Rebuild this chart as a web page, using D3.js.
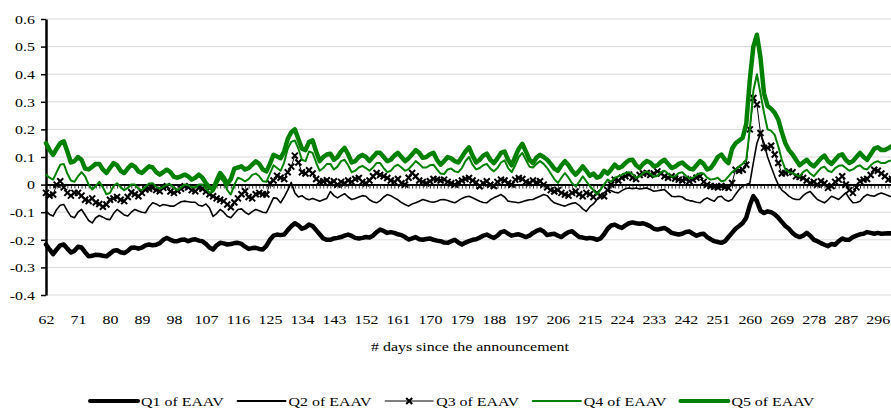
<!DOCTYPE html>
<html>
<head>
<meta charset="utf-8">
<script src="https://cdn.jsdelivr.net/npm/d3@7"></script>
<style>
  html, body { margin: 0; padding: 0; background: #fff; }
  svg { display: block; font-family: "Liberation Serif", "Times New Roman", Times, serif; }
</style>
</head>
<body>
<div id="chart"></div>
<script>
// Days since the announcement (one category per day)
const days = d3.range(62, 301);
const dayLabels = [62, 71, 80, 89, 98, 107, 116, 125, 134, 143, 152, 161, 170, 179, 188, 197, 206, 215, 224, 233, 242, 251, 260, 269, 278, 287, 296];
const yTicks = [-0.4, -0.3, -0.2, -0.1, 0, 0.1, 0.2, 0.3, 0.4, 0.5, 0.6];
const seriesNames = ['Q1 of EAAV', 'Q2 of EAAV', 'Q3 of EAAV', 'Q4 of EAAV', 'Q5 of EAAV'];

const q1 = [
  -0.217, -0.235, -0.252, -0.235, -0.22, -0.217, -0.232, -0.246, -0.24, -0.225,
  -0.228, -0.245, -0.26, -0.258, -0.254, -0.255, -0.258, -0.26, -0.25, -0.24,
  -0.238, -0.245, -0.248, -0.24, -0.229, -0.228, -0.232, -0.228, -0.22, -0.217,
  -0.22, -0.218, -0.212, -0.2, -0.193, -0.2, -0.205, -0.205, -0.2, -0.199,
  -0.205, -0.2, -0.198, -0.203, -0.205, -0.215, -0.228, -0.235, -0.22, -0.211,
  -0.213, -0.217, -0.215, -0.212, -0.211, -0.215, -0.225, -0.233, -0.23, -0.229,
  -0.233, -0.235, -0.222, -0.2, -0.185, -0.181, -0.183, -0.181, -0.165, -0.151,
  -0.14, -0.148, -0.16, -0.155, -0.145, -0.15, -0.165, -0.18, -0.195, -0.2,
  -0.2, -0.195, -0.193, -0.19, -0.185, -0.181, -0.186, -0.193, -0.195, -0.193,
  -0.19, -0.192, -0.185, -0.172, -0.163, -0.168, -0.175, -0.172, -0.175, -0.18,
  -0.183, -0.19, -0.199, -0.195, -0.19, -0.198, -0.2, -0.197, -0.195, -0.2,
  -0.203, -0.205, -0.21, -0.211, -0.205, -0.2, -0.21, -0.217, -0.21, -0.205,
  -0.2, -0.198, -0.192, -0.185, -0.181, -0.188, -0.193, -0.185, -0.172, -0.169,
  -0.178, -0.185, -0.182, -0.18, -0.185, -0.19, -0.185, -0.175, -0.168, -0.163,
  -0.17, -0.183, -0.18, -0.178, -0.185, -0.19, -0.18, -0.172, -0.169, -0.18,
  -0.19, -0.192, -0.195, -0.193, -0.195, -0.2, -0.195, -0.18, -0.16, -0.148,
  -0.145, -0.152, -0.157, -0.148, -0.14, -0.137, -0.14, -0.142, -0.14, -0.145,
  -0.151, -0.16, -0.163, -0.16, -0.157, -0.165, -0.175, -0.178, -0.181, -0.178,
  -0.172, -0.17, -0.178, -0.185, -0.18, -0.178, -0.19, -0.198, -0.205, -0.208,
  -0.211, -0.205, -0.19, -0.175, -0.16, -0.15, -0.139, -0.12, -0.075, -0.042,
  -0.06, -0.095, -0.103, -0.097, -0.1, -0.108, -0.12, -0.135, -0.15, -0.16,
  -0.175, -0.185, -0.19, -0.185, -0.175, -0.185, -0.2, -0.205, -0.212, -0.218,
  -0.223, -0.215, -0.218, -0.205, -0.195, -0.2, -0.2, -0.19, -0.185, -0.18,
  -0.178, -0.172, -0.175, -0.178, -0.175, -0.178, -0.177, -0.176, -0.177
];

const q2 = [
  -0.096, -0.108, -0.114, -0.09, -0.075, -0.072, -0.095, -0.115, -0.12, -0.1,
  -0.09, -0.11, -0.13, -0.139, -0.12, -0.112, -0.118, -0.125, -0.127, -0.105,
  -0.09, -0.1, -0.11, -0.114, -0.1, -0.09, -0.096, -0.1, -0.102, -0.08,
  -0.066, -0.07, -0.078, -0.072, -0.075, -0.078, -0.078, -0.07, -0.062, -0.06,
  -0.062, -0.064, -0.064, -0.075, -0.078, -0.07, -0.085, -0.115, -0.105, -0.09,
  -0.1, -0.115, -0.12, -0.105, -0.09, -0.088, -0.1, -0.108, -0.098, -0.09,
  -0.095, -0.1, -0.102, -0.075, -0.048, -0.05, -0.066, -0.045, -0.02, 0.008,
  -0.03, -0.045, -0.04, -0.05, -0.055, -0.05, -0.055, -0.06, -0.055, -0.05,
  -0.025, -0.04, -0.048, -0.04, -0.033, -0.045, -0.054, -0.05, -0.045, -0.04,
  -0.042, -0.055, -0.062, -0.066, -0.058, -0.045, -0.036, -0.04, -0.048, -0.055,
  -0.065, -0.072, -0.078, -0.07, -0.066, -0.06, -0.054, -0.058, -0.062, -0.064,
  -0.06, -0.055, -0.054, -0.058, -0.062, -0.066, -0.058, -0.05, -0.045, -0.042,
  -0.048, -0.054, -0.06, -0.065, -0.066, -0.055, -0.048, -0.042, -0.036, -0.045,
  -0.06, -0.062, -0.064, -0.066, -0.062, -0.058, -0.055, -0.054, -0.048, -0.042,
  -0.036, -0.04, -0.055, -0.066, -0.07, -0.075, -0.078, -0.072, -0.068, -0.066,
  -0.075, -0.088, -0.097, -0.08, -0.07, -0.054, -0.045, -0.03, -0.018, -0.022,
  -0.028, -0.03, -0.022, -0.015, -0.012, -0.015, -0.012, -0.016, -0.014, -0.012,
  -0.018, -0.024, -0.022, -0.02, -0.018, -0.03, -0.042, -0.044, -0.042, -0.045,
  -0.054, -0.058, -0.06, -0.064, -0.066, -0.055, -0.048, -0.055, -0.06, -0.045,
  -0.042, -0.055, -0.06, -0.054, -0.035, -0.018, -0.005, 0.0, 0.005, 0.08,
  0.15, 0.185, 0.15, 0.1, 0.065, 0.03, 0.0, -0.02, -0.03, -0.042,
  -0.05, -0.054, -0.054, -0.04, -0.03, -0.025, -0.04, -0.054, -0.06, -0.066,
  -0.055, -0.042, -0.048, -0.054, -0.042, -0.03, -0.05, -0.066, -0.065, -0.06,
  -0.045, -0.036, -0.04, -0.042, -0.035, -0.03, -0.035, -0.04, -0.045
];

const q3 = [
  -0.03, -0.04, -0.036, 0.0, 0.012, -0.01, -0.03, -0.04, -0.03, -0.03,
  -0.04, -0.055, -0.06, -0.05, -0.065, -0.07, -0.08, -0.072, -0.055, -0.05,
  -0.045, -0.055, -0.06, -0.045, -0.028, -0.035, -0.042, -0.03, -0.018, -0.015,
  -0.012, -0.02, -0.024, -0.012, -0.006, -0.025, -0.03, -0.022, -0.015, -0.006,
  -0.01, -0.02, -0.024, -0.012, -0.015, -0.025, -0.035, -0.042, -0.05, -0.055,
  -0.06, -0.072, -0.082, -0.065, -0.05, -0.035, -0.024, -0.045, -0.05, -0.035,
  -0.03, -0.035, -0.036, 0.005, 0.015, 0.032, 0.025, 0.02, 0.045, 0.065,
  0.105, 0.08, 0.045, 0.04, 0.052, 0.04, 0.02, 0.01, 0.012, 0.016,
  0.006, 0.012, 0.0, 0.01, 0.005, 0.015, 0.01, 0.02, 0.024, 0.01,
  0.005, 0.015, 0.03, 0.042, 0.035, 0.03, 0.024, 0.015, 0.01, 0.02,
  0.005, 0.0, 0.025, 0.042, 0.03, 0.015, 0.01, 0.005, 0.012, 0.02,
  0.018, 0.015, 0.018, 0.01, 0.005, 0.0, 0.008, 0.015, 0.02, 0.024,
  0.015, 0.008, -0.006, 0.005, 0.012, 0.0, -0.005, 0.01, 0.018, 0.015,
  0.006, 0.0, 0.018, 0.024, 0.02, 0.01, 0.006, 0.015, 0.008, 0.012,
  0.0, -0.01, -0.02, -0.025, -0.02, -0.03, -0.036, -0.04, -0.03, -0.025,
  -0.035, -0.042, -0.03, -0.035, -0.045, -0.03, -0.04, -0.042, -0.02, 0.0,
  0.018, 0.015, 0.025, 0.03, 0.036, 0.025, 0.02, 0.035, 0.04, 0.042,
  0.035, 0.04, 0.048, 0.04, 0.03, 0.025, 0.03, 0.022, 0.018, 0.015,
  0.02, 0.012, 0.018, 0.025, 0.03, 0.01, 0.0, -0.005, -0.008, -0.01,
  -0.005, -0.01, -0.012, 0.006, 0.054, 0.05, 0.054, 0.072, 0.2, 0.314,
  0.29, 0.187, 0.133, 0.133, 0.141, 0.109, 0.078, 0.04, 0.042, 0.048,
  0.045, 0.03, 0.028, 0.024, 0.015, 0.006, 0.01, 0.0, 0.012, 0.005,
  -0.012, -0.005, 0.01, 0.018, 0.03, 0.0, -0.02, -0.03, -0.01, 0.012,
  0.018, 0.02, 0.035, 0.054, 0.05, 0.04, 0.03, 0.018, 0.02
];

const q4 = [
  0.036, 0.025, 0.018, 0.045, 0.072, 0.075, 0.04, 0.015, 0.01, 0.03,
  0.045, 0.03, 0.0, -0.018, -0.005, 0.01, -0.01, -0.035, -0.03, -0.005,
  0.005, -0.01, -0.02, -0.012, 0.0, 0.0, -0.015, -0.02, -0.008, 0.004,
  0.005, -0.008, -0.015, -0.008, 0.0, 0.0, -0.012, -0.02, -0.01, 0.0,
  -0.002, -0.01, -0.01, 0.0, 0.0, -0.015, -0.03, -0.025, 0.0, 0.025,
  0.01, -0.02, -0.036, 0.0, 0.025, 0.02, 0.012, 0.02, 0.035, 0.04,
  0.03, 0.012, 0.01, 0.04, 0.07, 0.06, 0.05, 0.08, 0.13, 0.155,
  0.16, 0.13, 0.09, 0.085, 0.12, 0.115, 0.08, 0.05, 0.06, 0.075,
  0.075, 0.055, 0.065, 0.085, 0.09, 0.07, 0.045, 0.05, 0.062, 0.068,
  0.06, 0.05, 0.062, 0.078, 0.078, 0.06, 0.045, 0.05, 0.065, 0.072,
  0.062, 0.05, 0.056, 0.07, 0.085, 0.075, 0.062, 0.062, 0.07, 0.072,
  0.055, 0.04, 0.038, 0.055, 0.058, 0.048, 0.045, 0.06, 0.085, 0.1,
  0.072, 0.055, 0.06, 0.07, 0.075, 0.058, 0.048, 0.06, 0.08, 0.088,
  0.06, 0.045, 0.07, 0.1, 0.115, 0.09, 0.065, 0.062, 0.075, 0.085,
  0.075, 0.06, 0.04, 0.02, 0.006, 0.025, 0.042, 0.025, 0.005, -0.006,
  0.01, 0.03, 0.012, -0.005, -0.02, -0.036, -0.018, 0.0, 0.018, 0.01,
  0.025, 0.03, 0.035, 0.042, 0.045, 0.038, 0.025, 0.03, 0.042, 0.048,
  0.04, 0.028, 0.032, 0.045, 0.05, 0.04, 0.028, 0.03, 0.042, 0.045,
  0.032, 0.022, 0.025, 0.035, 0.042, 0.04, 0.025, 0.018, 0.02, 0.025,
  0.012, 0.015, 0.03, 0.045, 0.055, 0.066, 0.075, 0.09, 0.2, 0.34,
  0.4, 0.33, 0.26, 0.2, 0.195, 0.18, 0.139, 0.09, 0.055, 0.045,
  0.042, 0.035, 0.03, 0.045, 0.054, 0.04, 0.03, 0.045, 0.06, 0.065,
  0.05, 0.045, 0.06, 0.068, 0.07, 0.06, 0.05, 0.055, 0.065, 0.07,
  0.058, 0.055, 0.07, 0.08, 0.085, 0.078, 0.078, 0.085, 0.088
];

const q5 = [
  0.15, 0.125, 0.108, 0.13, 0.15, 0.157, 0.12, 0.08, 0.085, 0.1,
  0.09, 0.058, 0.055, 0.065, 0.075, 0.075, 0.055, 0.042, 0.06, 0.078,
  0.07, 0.05, 0.042, 0.058, 0.072, 0.065, 0.048, 0.042, 0.055, 0.066,
  0.062, 0.045, 0.036, 0.045, 0.054, 0.045, 0.028, 0.025, 0.03, 0.036,
  0.03, 0.018, 0.025, 0.036, 0.025, 0.005, -0.01, -0.018, 0.015, 0.042,
  0.025, 0.002, 0.02, 0.058, 0.062, 0.066, 0.055, 0.06, 0.072, 0.084,
  0.075, 0.055, 0.048, 0.075, 0.108, 0.102, 0.096, 0.12, 0.165, 0.19,
  0.2, 0.165, 0.13, 0.125, 0.155, 0.16, 0.12, 0.085, 0.1, 0.109,
  0.112, 0.09, 0.1, 0.12, 0.133, 0.11, 0.08, 0.085, 0.1, 0.108,
  0.1, 0.085, 0.1, 0.115, 0.115, 0.1, 0.085, 0.09, 0.105, 0.115,
  0.1, 0.085, 0.095, 0.11, 0.125, 0.115, 0.097, 0.1, 0.11, 0.115,
  0.09, 0.072, 0.085, 0.1, 0.095, 0.085, 0.08, 0.1, 0.12, 0.135,
  0.105, 0.08, 0.09, 0.105, 0.112, 0.09, 0.078, 0.095, 0.115, 0.12,
  0.09, 0.07, 0.1, 0.13, 0.148, 0.12, 0.09, 0.078, 0.098, 0.108,
  0.1, 0.09, 0.075, 0.058, 0.05, 0.07, 0.085, 0.07, 0.05, 0.036,
  0.05, 0.066, 0.05, 0.032, 0.04, 0.025, 0.03, 0.05, 0.04, 0.055,
  0.072, 0.06, 0.065, 0.078, 0.088, 0.09, 0.07, 0.06, 0.075, 0.085,
  0.08, 0.066, 0.07, 0.082, 0.09, 0.075, 0.06, 0.065, 0.075, 0.08,
  0.068, 0.058, 0.055, 0.07, 0.085, 0.075, 0.055, 0.06, 0.078, 0.1,
  0.109, 0.09, 0.078, 0.13, 0.15, 0.16, 0.17, 0.22, 0.38, 0.5,
  0.543, 0.46, 0.33, 0.285, 0.275, 0.26, 0.236, 0.19, 0.15, 0.125,
  0.11, 0.09, 0.07, 0.08, 0.09, 0.075, 0.066, 0.08, 0.095, 0.105,
  0.085, 0.075, 0.09, 0.105, 0.11, 0.09, 0.078, 0.085, 0.1, 0.115,
  0.1, 0.09, 0.11, 0.13, 0.135, 0.125, 0.125, 0.132, 0.14
];

(function() {
  const width = 891;
  const height = 410;
  const green = '#008000';
  const fontFamily = '"Liberation Serif", "Times New Roman", Times, serif';
  const fontSize = '13.5px';
  const stretch = 1.18; // the original picture is a bit wider than tall

  // Series look: thick / thin black, markers, thin / thick green
  const styles = [
    { values: q1, color: '#000', width: 4.5, legendWidth: 4, marker: false },
    { values: q2, color: '#000', width: 1.6, legendWidth: 1.8, marker: false },
    { values: q3, color: '#000', width: 1, legendWidth: 1, marker: true },
    { values: q4, color: green, width: 2, legendWidth: 2.2, marker: false },
    { values: q5, color: green, width: 4.5, legendWidth: 4, marker: false }
  ];

  // Widen text around its own anchor
  function widen(sel) {
    sel.each(function() {
      const t = d3.select(this);
      const tx = +t.attr('x') || 0;
      t.attr('x', tx / stretch).attr('transform', `scale(${stretch},1)`);
    });
  }

  const svg = d3.select('#chart')
    .append('svg')
    .attr('width', width)
    .attr('height', height)
    .style('background', '#fff');

  const x = d3.scaleLinear().domain([62, 300]).range([46, 892]);
  const y = d3.scaleLinear().domain([-0.4, 0.6]).range([295, 19]);

  // Gridlines
  svg.append('g')
    .selectAll('line')
    .data(yTicks.filter(d => d !== 0))
    .enter().append('line')
    .attr('x1', 46)
    .attr('x2', width)
    .attr('y1', d => y(d))
    .attr('y2', d => y(d))
    .attr('stroke', '#d9d9d9')
    .attr('stroke-width', 1);

  // Y axis
  const yAxis = svg.append('g')
    .attr('transform', 'translate(46,0)')
    .call(d3.axisLeft(y)
      .tickValues(yTicks)
      .tickSize(5)
      .tickSizeOuter(0)
      .tickPadding(6)
      .tickFormat(d => d === 0 ? '0' : d.toFixed(1)));
  yAxis.attr('font-family', fontFamily).attr('font-size', fontSize);
  yAxis.select('.domain').attr('stroke', '#000').attr('stroke-width', 2.5);
  yAxis.selectAll('.tick line').attr('stroke', '#000').attr('stroke-width', 1.5);
  yAxis.selectAll('text').attr('fill', '#000').call(widen);

  // X axis crossing at zero, one tick per day
  const xAxis = svg.append('g')
    .attr('transform', `translate(0,${y(0)})`)
    .call(d3.axisBottom(x)
      .tickValues(days)
      .tickSize(4)
      .tickSizeOuter(0)
      .tickFormat(''));
  xAxis.select('.domain').attr('stroke', '#000').attr('stroke-width', 2);
  xAxis.selectAll('.tick line').attr('stroke', '#000').attr('stroke-width', 0.8);

  // X labels sit at the bottom of the plot
  const xLabels = svg.append('g')
    .attr('transform', `translate(0,${y(-0.4)})`)
    .call(d3.axisBottom(x)
      .tickValues(dayLabels)
      .tickSize(0)
      .tickPadding(19)
      .tickFormat(d => d));
  xLabels.attr('font-family', fontFamily).attr('font-size', fontSize);
  xLabels.select('.domain').remove();
  xLabels.selectAll('text').attr('fill', '#000').call(widen);

  svg.append('text')
    .attr('x', 470)
    .attr('y', 351)
    .attr('text-anchor', 'middle')
    .attr('font-family', fontFamily)
    .attr('font-size', fontSize)
    .attr('fill', '#000')
    .text('# days since the announcement')
    .call(widen);

  // Lines
  const line = d3.line()
    .x((d, i) => x(days[i]))
    .y(d => y(d));

  const crossPath = 'M-3,-3L3,3M-3,3L3,-3';

  styles.forEach(s => {
    svg.append('path')
      .datum(s.values)
      .attr('d', line)
      .attr('fill', 'none')
      .attr('stroke', s.color)
      .attr('stroke-width', s.width)
      .attr('stroke-linejoin', 'round')
      .attr('stroke-linecap', 'round');

    if (s.marker) {
      svg.append('g')
        .selectAll('path')
        .data(s.values)
        .enter().append('path')
        .attr('d', crossPath)
        .attr('transform', (d, i) => `translate(${x(days[i])},${y(d)})`)
        .attr('stroke', '#000')
        .attr('stroke-width', 2)
        .attr('fill', 'none');
    }
  });

  // Legend
  const legend = svg.append('g').attr('transform', 'translate(90,401)');
  styles.forEach((s, i) => {
    const g = legend.append('g').attr('transform', `translate(${i * 147.6},0)`);
    g.append('line')
      .attr('x1', 0)
      .attr('x2', 48)
      .attr('stroke', s.color)
      .attr('stroke-width', s.legendWidth)
      .attr('stroke-linecap', 'round');
    if (s.marker) {
      g.append('path')
        .attr('d', crossPath)
        .attr('transform', 'translate(24,0)')
        .attr('stroke', '#000')
        .attr('stroke-width', 2);
    }
    g.append('text')
      .attr('x', 51)
      .attr('y', 4.5)
      .attr('font-family', fontFamily)
      .attr('font-size', fontSize)
      .attr('fill', '#000')
      .text(seriesNames[i])
      .call(widen);
  });
})();
</script>
</body>
</html>
